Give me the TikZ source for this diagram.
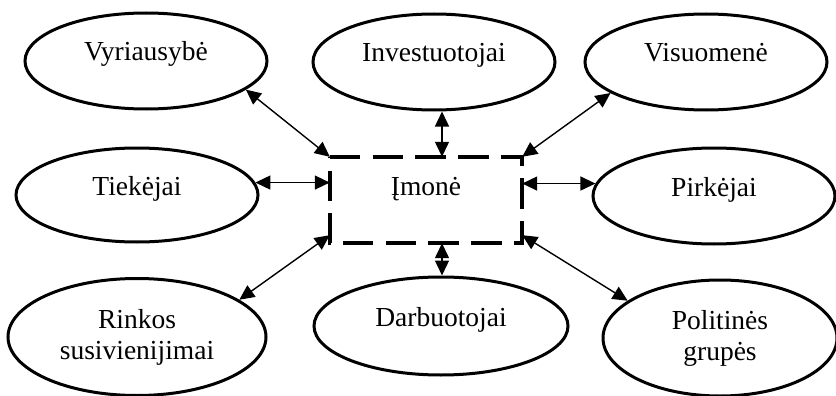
\documentclass[tikz,border=0pt]{standalone}
\usepackage{fontspec}
\setmainfont{Liberation Serif}
\usetikzlibrary{shapes.geometric,arrows.meta}
\begin{document}
\begin{tikzpicture}[x=1pt,y=-1pt,
  party/.style={ellipse, draw, line width=3pt, inner sep=0pt,
    font=\fontsize{27.5}{31}\selectfont},
  oneline/.style={party, text height=19pt, text depth=19pt},
  twoline/.style={party, align=center},
  core/.style={inner sep=0pt, minimum width=192pt, minimum height=86pt,
    font=\fontsize{27.5}{31}\selectfont, text height=19pt, text depth=29pt},
  outline/.style={line width=4pt, dash pattern=on 30.5pt off 12.27pt},
  link/.style={line width=1.4pt,
    {Triangle[length=15pt,width=14pt]}-{Triangle[length=15pt,width=14pt]}}
]
\useasboundingbox (0,0) rectangle (836,396);

% the company in the middle
\node[core] (box) at (426,200) {Įmonė};
\draw[outline] (box.north west) -- (box.north east) -- (box.south east)
  -- (box.south west) -- cycle;

% stakeholders around it
\node[oneline, minimum width=242pt, minimum height=96pt] (vyr) at (146,61) {Vyriausybė};
\node[oneline, minimum width=242pt, minimum height=96pt] (inv) at (434,62) {Investuotojai};
\node[oneline, minimum width=242pt, minimum height=96pt] (vis) at (706,62) {Visuomenė};
\node[oneline, minimum width=242pt, minimum height=94pt] (tie) at (137,195) {Tiekėjai};
\node[oneline, minimum width=242pt, minimum height=96pt] (pir) at (714,196) {Pirkėjai};
\node[twoline, minimum width=258pt, minimum height=117pt] (rin) at (137,337) {Rinkos\\susivienijimai};
\node[oneline, minimum width=254pt, minimum height=98pt] (dar) at (441,326) {Darbuotojai};
\node[twoline, minimum width=234pt, minimum height=116pt] (pol) at (720,338) {Politinės\\grupės};

% two-way links
\draw[link] (vyr.-16) -- (box.north west);
\draw[link] ([xshift=16pt]box.north |- inv.south) -- ([xshift=16pt]box.north);
\draw[link] (vis.198) -- (box.north east);
\draw[link] (tie.6) -- (tie.6 -| box.west);
\draw[link] (pir.174 -| box.east) -- (pir.174);
\draw[link] (rin.20) -- ([yshift=8pt]box.south west);
\draw[link] ([xshift=16pt]box.south) -- ([xshift=16pt]box.south |- dar.north);
\draw[link] ([yshift=8pt]box.south east) -- (pol.158);
\end{tikzpicture}
\end{document}
